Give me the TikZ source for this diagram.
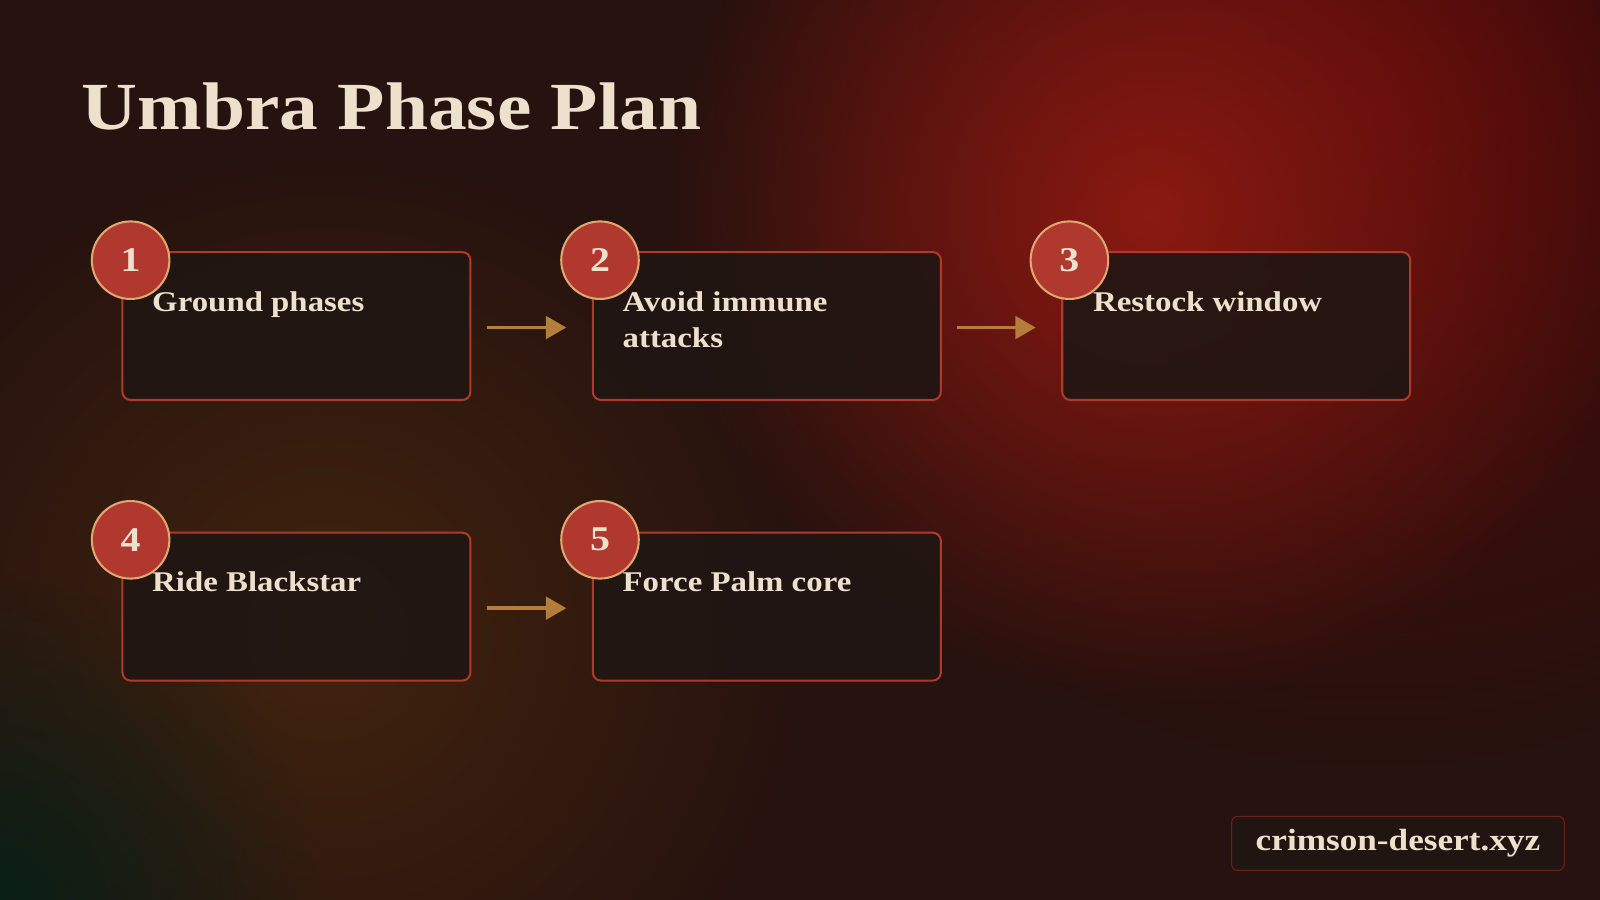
\documentclass[tikz,border=0pt]{standalone}
\usepackage{fontspec}
\setmainfont{Liberation Serif}[FakeStretch=1.15]
\usetikzlibrary{fadings,arrows.meta}
\tikzfading[name=glow, inner color=transparent!0, outer color=transparent!100]
\definecolor{bgbase}{HTML}{26120E}
\definecolor{redglow}{HTML}{8A1A12}
\definecolor{brownglow}{HTML}{42240F}
\definecolor{greenglow}{HTML}{0A2016}
\definecolor{cardfill}{HTML}{201613}
\definecolor{cardline}{HTML}{B03A2A}
\definecolor{badgefill}{HTML}{B0382E}
\definecolor{badgeline}{HTML}{E0A870}
\definecolor{arrowc}{HTML}{B57D3A}
\definecolor{txt}{HTML}{EDE1CE}
\definecolor{deepred}{HTML}{4E0808}
\begin{document}
\begin{tikzpicture}[x=1pt,y=-1pt,
  card/.style={draw=cardline,line width=2pt,fill=cardfill,fill opacity=0.9,rounded corners=8pt,minimum width=341pt,minimum height=145pt,anchor=north west},
  badge/.style={circle,draw=badgeline,line width=2pt,fill=badgefill,minimum size=76pt,inner sep=0pt,text=txt,font=\fontsize{34}{34}\selectfont\bfseries},
  label/.style={anchor=north west,align=left,text=txt,font=\fontsize{28}{35}\selectfont\bfseries,inner sep=0pt},
  flow/.style={draw=arrowc,line width=3.5pt,-{Triangle[length=20pt,width=22pt]}}]
\fill[bgbase] (0,0) rectangle (1568,882);
\useasboundingbox (0,0) rectangle (1568,882);
\fill[deepred,path fading=glow] (1350,100) circle (650);
\fill[redglow,path fading=glow] (1130,210) circle (480);
\fill[brownglow,path fading=glow] (320,620) circle (480);
\fill[greenglow,path fading=glow] (0,882) circle (320);
\node[anchor=base west,text=txt,font=\fontsize{66}{66}\selectfont\bfseries,inner sep=0pt] (title) at (80,127) {Umbra Phase Plan};
\node[card] (c1) at (119,246) {};
\node[card] (c2) at (580,246) {};
\node[card] (c3) at (1040,246) {};
\node[card] (c4) at (119,521) {};
\node[card] (c5) at (580,521) {};
\node[label] (t1) at (149,286) {Ground phases};
\node[label] (t2) at (610,286) {Avoid immune\\attacks};
\node[label] (t3) at (1071,286) {Restock window};
\node[label] (t4) at (149,560) {Ride Blackstar};
\node[label] (t5) at (610,560) {Force Palm core};
\node[badge] (b1) at (128,255) {1};
\node[badge] (b2) at (588,255) {2};
\node[badge] (b3) at (1048,255) {3};
\node[badge] (b4) at (128,529) {4};
\node[badge] (b5) at (588,529) {5};
\draw[flow] ([xshift=15pt,yshift=-1.5pt]c1.east) -- ([xshift=-25pt,yshift=-1.5pt]c2.west);
\draw[flow] ([xshift=15pt,yshift=-1.5pt]c2.east) -- ([xshift=-25pt,yshift=-1.5pt]c3.west);
\draw[flow] ([xshift=15pt,yshift=-1.5pt]c4.east) -- ([xshift=-25pt,yshift=-1.5pt]c5.west);
\node[draw=cardline!60!black,line width=1pt,fill=cardfill,fill opacity=0.8,text opacity=1,rounded corners=6pt,minimum width=326pt,minimum height=53pt,text=txt,font=\fontsize{30}{30}\selectfont\bfseries] (foot) at (1370,826.5) {crimson-desert.xyz};
\end{tikzpicture}
\end{document}
